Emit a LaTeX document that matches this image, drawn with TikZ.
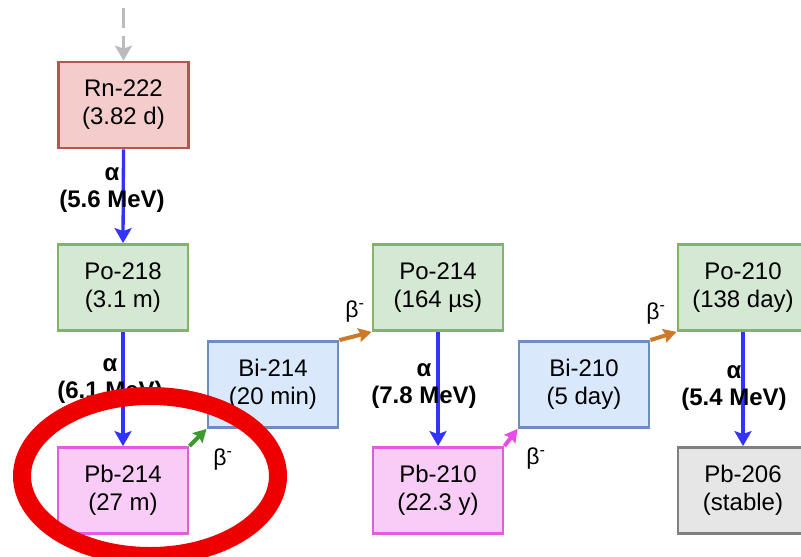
\documentclass[tikz,border=0pt]{standalone}
\usepackage{fontspec}
\setmainfont{Liberation Sans}
\usetikzlibrary{arrows.meta}
\definecolor{rnfill}{HTML}{F4CCCC}\definecolor{rnline}{HTML}{B85450}
\definecolor{pofill}{HTML}{D5E8D4}\definecolor{poline}{HTML}{82B366}
\definecolor{bifill}{HTML}{DAE8FC}\definecolor{biline}{HTML}{6C8EBF}
\definecolor{pbfill}{HTML}{F8CCF6}\definecolor{pbline}{HTML}{E05CE0}
\definecolor{stfill}{HTML}{E6E6E6}\definecolor{stline}{HTML}{808080}
\definecolor{alphac}{HTML}{3333FF}\definecolor{greenc}{HTML}{3D9A2E}
\definecolor{orangec}{HTML}{CC7A29}\definecolor{magc}{HTML}{E64CE6}
\definecolor{grayc}{HTML}{BBBBBB}\definecolor{ringc}{HTML}{EE0000}
\tikzset{
  box/.style={draw, line width=2.8pt, minimum width=130pt, minimum height=86pt,
    align=center, inner sep=0pt, font=\fontsize{24}{28}\selectfont},
  rnbox/.style={box, fill=rnfill, draw=rnline},
  pobox/.style={box, fill=pofill, draw=poline},
  bibox/.style={box, fill=bifill, draw=biline},
  pbbox/.style={box, fill=pbfill, draw=pbline},
  stbox/.style={box, fill=stfill, draw=stline},
  arr/.style={line width=3.3pt, -{Stealth[length=15pt,width=17pt,inset=3pt]}},
  barr/.style={line width=4pt, -{Stealth[length=13pt,width=14pt,inset=2pt]}},
  alab/.style={font=\bfseries\fontsize{24}{27}\selectfont, align=center, inner sep=0pt},
  blab/.style={font=\fontsize{23}{26}\selectfont, inner sep=0pt}
}
\begin{document}
\begin{tikzpicture}[x=1pt,y=-1pt]
\useasboundingbox (0,0) rectangle (801,557);
\clip (0,0) rectangle (801,557);
\node[rnbox] (rn) at (123.5,105) {Rn-222\\(3.82 d)};
\node[pobox] (po218) at (123,287.5) {Po-218\\(3.1 m)};
\node[pbbox] (pb214) at (123,490.5) {Pb-214\\(27 m)};
\node[bibox] (bi214) at (273,384.5) {Bi-214\\(20 min)};
\node[pobox] (po214) at (438,287.5) {Po-214\\(164 µs)};
\node[pbbox] (pb210) at (438,490.5) {Pb-210\\(22.3 y)};
\node[bibox] (bi210) at (584,384.5) {Bi-210\\(5 day)};
\node[pobox] (po210) at (743,287.5) {Po-210\\(138 day)};
\node[stbox] (pb206) at (743,490.5) {Pb-206\\(stable)};
\coordinate (src) at (123.5,8);
\draw[arr, grayc, dash pattern=on 20pt off 8pt] (src) -- (rn.north);
\draw[arr, alphac] (rn.south) -- (po218.north);
\draw[arr, alphac] (po218.south) -- (pb214.north);
\draw[arr, alphac] (po214.south) -- (pb210.north);
\draw[arr, alphac] (po210.south) -- (pb206.north);
\draw[barr, greenc] (pb214.north east) -- (bi214.south west);
\draw[barr, orangec] (bi214.north east) -- (po214.south west);
\draw[barr, magc] (pb210.north east) -- (bi210.south west);
\draw[barr, orangec] (bi210.north east) -- (po210.south west);
\node[alab] (l1) at (112,190) {α\\(5.6 MeV)};
\node[alab] (l2) at (110,381) {α\\(6.1 MeV)};
\node[alab] (l3) at (424,386) {α\\(7.8 MeV)};
\node[alab] (l4) at (734,388) {α\\(5.4 MeV)};
\node[blab] (b1) at (223,460) {β\textsuperscript{-}};
\node[blab] (b2) at (355,312) {β\textsuperscript{-}};
\node[blab] (b3) at (536,459) {β\textsuperscript{-}};
\node[blab] (b4) at (656,314) {β\textsuperscript{-}};
\draw[ringc, line width=18pt] (150,476) ellipse [x radius=128pt, y radius=80pt];
\end{tikzpicture}
\end{document}
